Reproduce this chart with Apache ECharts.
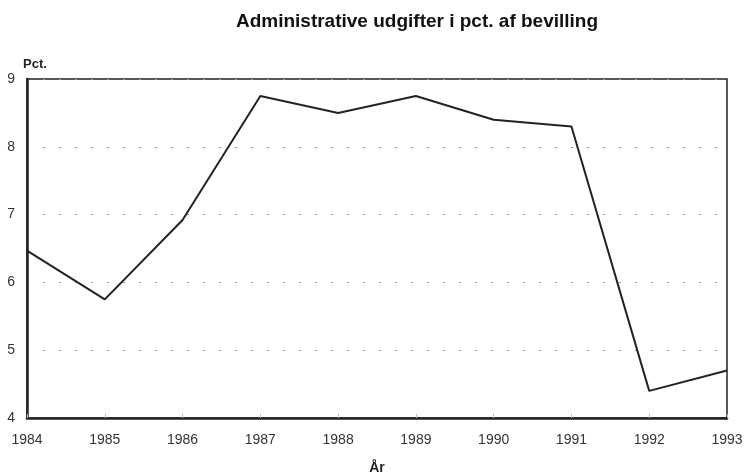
<!DOCTYPE html>
<html>
<head>
<meta charset="utf-8">
<script src="https://cdn.jsdelivr.net/npm/echarts@6/dist/echarts.min.js"></script>
<style>
  html, body { margin: 0; padding: 0; background: #fff; }
  #chart { width: 745px; height: 476px; }
</style>
</head>
<body>
<div id="chart"></div>
<script>
  // data
  const years = ['1984', '1985', '1986', '1987', '1988', '1989', '1990', '1991', '1992', '1993'];
  const adminPct = [6.47, 5.75, 6.92, 8.75, 8.5, 8.75, 8.4, 8.3, 4.4, 4.7];

  const chart = echarts.init(document.getElementById('chart'));
  const font = '"Liberation Sans", Arial, sans-serif';

  chart.setOption({
    animation: false,
    title: {
      text: 'Administrative udgifter i pct. af bevilling',
      left: 412,
      textAlign: 'center',
      top: 7,
      textStyle: { fontFamily: font, fontSize: 19, fontWeight: 'bold', color: '#111' }
    },
    grid: {
      left: 27,
      right: 18,
      top: 79,
      bottom: 58,
      outerBoundsMode: 'none',
      containLabel: false,
      show: true,
      borderColor: '#222',
      borderWidth: 1.5
    },
    xAxis: {
      type: 'category',
      data: years,
      boundaryGap: false,
      name: 'År',
      nameLocation: 'middle',
      nameGap: 43,
      nameTextStyle: { fontFamily: font, fontSize: 14, fontWeight: 'bold', color: '#222' },
      axisLine: { lineStyle: { color: '#222', width: 2.5 } },
      axisTick: { inside: true, length: 4, lineStyle: { color: '#bbb' } },
      axisLabel: { fontFamily: font, fontSize: 14, color: '#333', margin: 15 },
      splitLine: { show: false }
    },
    yAxis: {
      type: 'value',
      min: 4,
      max: 9,
      interval: 1,
      name: 'Pct.',
      nameLocation: 'end',
      nameGap: 8,
      nameTextStyle: { fontFamily: font, fontSize: 13, fontWeight: 'bold', color: '#222', align: 'left', padding: [0, 0, 0, -4] },
      axisLine: { show: true, lineStyle: { color: '#222', width: 2.5 } },
      axisTick: { show: false },
      axisLabel: { fontFamily: font, fontSize: 14, color: '#333', margin: 12 },
      splitLine: { show: true, lineStyle: { color: '#999', type: [2, 14], width: 1 } }
    },
    series: [{
      type: 'line',
      data: adminPct,
      symbol: 'none',
      lineStyle: { color: '#222', width: 2 }
    }]
  });
</script>
</body>
</html>
